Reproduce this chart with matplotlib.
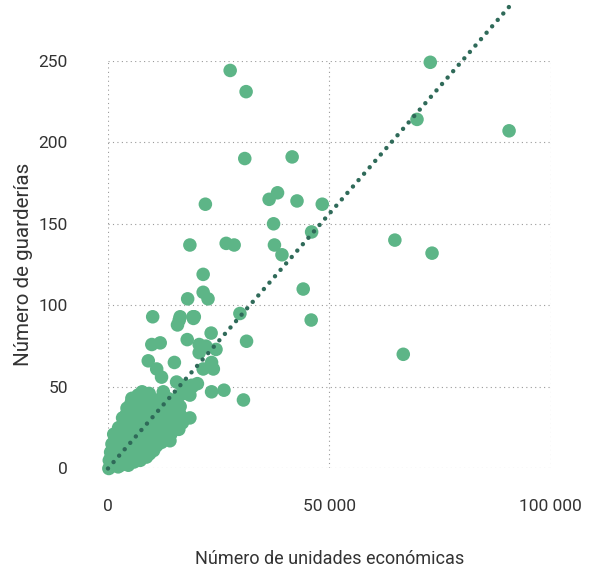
import matplotlib.pyplot as plt
import numpy as np

# unidades económicas (x) vs guarderías (y), one point per municipio
units = [
    # dense group near the origin
    200, 500, 900, 1400, 300, 700, 1100, 1800, 2300, 2900, 3500, 600, 1200, 1700, 2500,
    3200, 4000, 4600, 900, 1500, 2100, 2800, 3600, 4400, 5200, 5900, 1300, 2000, 2700,
    3400, 4200, 5000, 5800, 6600, 7300, 2400, 3100, 3900, 4800, 5600, 6400, 7200, 8000,
    8700, 9400, 3300, 4100, 5000, 6000, 6900, 7800, 8600, 9500, 10300, 11000, 4300, 5200,
    6200, 7100, 8100, 9000, 10000, 11000, 11800, 5400, 6500, 7500, 8500, 9600, 10600,
    11600, 12300, 6800, 8000, 9100, 10200, 11300, 12200, 7700, 8900, 10100, 11400, 9300,
    10700, 12000, 8300, 9800, 11100, 12600, 13400, 14000, 12800, 14600, 15500, 16300,
    13500, 14800, 15900, 17000, 18100, 16600, 17600, 19000, 20200, 13000, 15000, 16800,
    18500, 12100, 14200, 16000, 11000, 8600, 6500, 14000, 15500, 16300,
    # spread along the trend
    19200, 21500, 23800, 23400, 18900, 18500, 12500, 20600, 22100, 20600, 24400, 23300,
    17900, 10100, 11800, 9100, 15000, 11000, 12100, 15500, 9900, 16100, 15700, 19500,
    18000, 16300, 19300, 21500, 21500, 22600, 29800, 31300, 23400, 26200, 30600,
    # outliers
    27600, 31200, 72800, 69800, 90600, 30900, 41600, 38300, 42700, 48400, 22000, 36400,
    37400, 18500, 26700, 28500, 37600, 39300, 46000, 64800, 73200, 44100, 45900, 66700,
]
nurseries = [
    0, 1, 2, 3, 5, 7, 6, 4, 1, 2, 3, 10, 12, 9, 7,
    5, 4, 2, 15, 17, 14, 12, 10, 8, 6, 4, 21, 20, 18,
    16, 14, 11, 9, 7, 5, 25, 26, 23, 20, 17, 13, 11, 8,
    7, 9, 31, 33, 29, 26, 22, 17, 14, 12, 11, 14, 37, 40,
    35, 31, 27, 23, 19, 17, 21, 43, 41, 38, 34, 30, 27,
    24, 28, 45, 43, 40, 36, 33, 31, 47, 44, 41, 37, 46,
    42, 38, 35, 31, 26, 29, 33, 36, 22, 30, 33, 38,
    43, 40, 44, 46, 48, 51, 47, 50, 52, 18, 25, 28,
    31, 16, 21, 24, 29, 26, 18, 17, 36, 33,
    93, 61, 61, 65, 51, 45, 47, 76, 75, 71, 73, 83,
    79, 93, 77, 66, 65, 61, 56, 53, 76, 91, 88, 93,
    104, 93, 92, 119, 108, 104, 95, 78, 47, 48, 42,
    244, 231, 249, 214, 207, 190, 191, 169, 164, 162, 162, 165,
    150, 137, 138, 137, 137, 131, 145, 140, 132, 110, 91, 70,
]

# fitted trend through the origin
trend_x = [0, 90600]
trend_y = [0, 283]

x_ticks = [0, 50000, 100000]
x_tick_labels = ["0", "50 000", "100 000"]
y_ticks = [0, 50, 100, 150, 200, 250]

plt.rcParams["font.family"] = ["Roboto", "DejaVu Sans"]

fig = plt.figure(figsize=(5.91, 5.68), dpi=100)
ax = fig.add_axes([0.1827, 0.1752, 0.7491, 0.7180])

ax.scatter(units, nurseries, s=95, color="#5db587", edgecolors="none",
           clip_on=False, zorder=3)
ax.plot(trend_x, trend_y, color="#2f6a59", linewidth=3.2,
        linestyle=(0, (0.01, 1.9)), dash_capstyle="round",
        clip_on=False, zorder=4)

ax.set_xlim(0, 100000)
ax.set_ylim(0, 250)
ax.set_xticks(x_ticks)
ax.set_xticklabels(x_tick_labels)
ax.set_yticks(y_ticks)

for side in ax.spines.values():
    side.set_visible(False)
ax.grid(True, linestyle=(0, (1, 3)), color="#9a9a9a", linewidth=0.8)
ax.set_axisbelow(True)
ax.tick_params(length=0, labelsize=12.5, labelcolor="#333333")
ax.tick_params(axis="x", pad=22)
ax.tick_params(axis="y", pad=29)

ax.set_xlabel("Número de unidades económicas", fontsize=13,
              color="#333333")
ax.set_ylabel("Número de guarderías", fontsize=14.8, color="#333333")
ax.xaxis.set_label_coords(0.5, -0.2)
ax.yaxis.set_label_coords(-0.169, 0.5)

fig.savefig("out.png", dpi=100)
